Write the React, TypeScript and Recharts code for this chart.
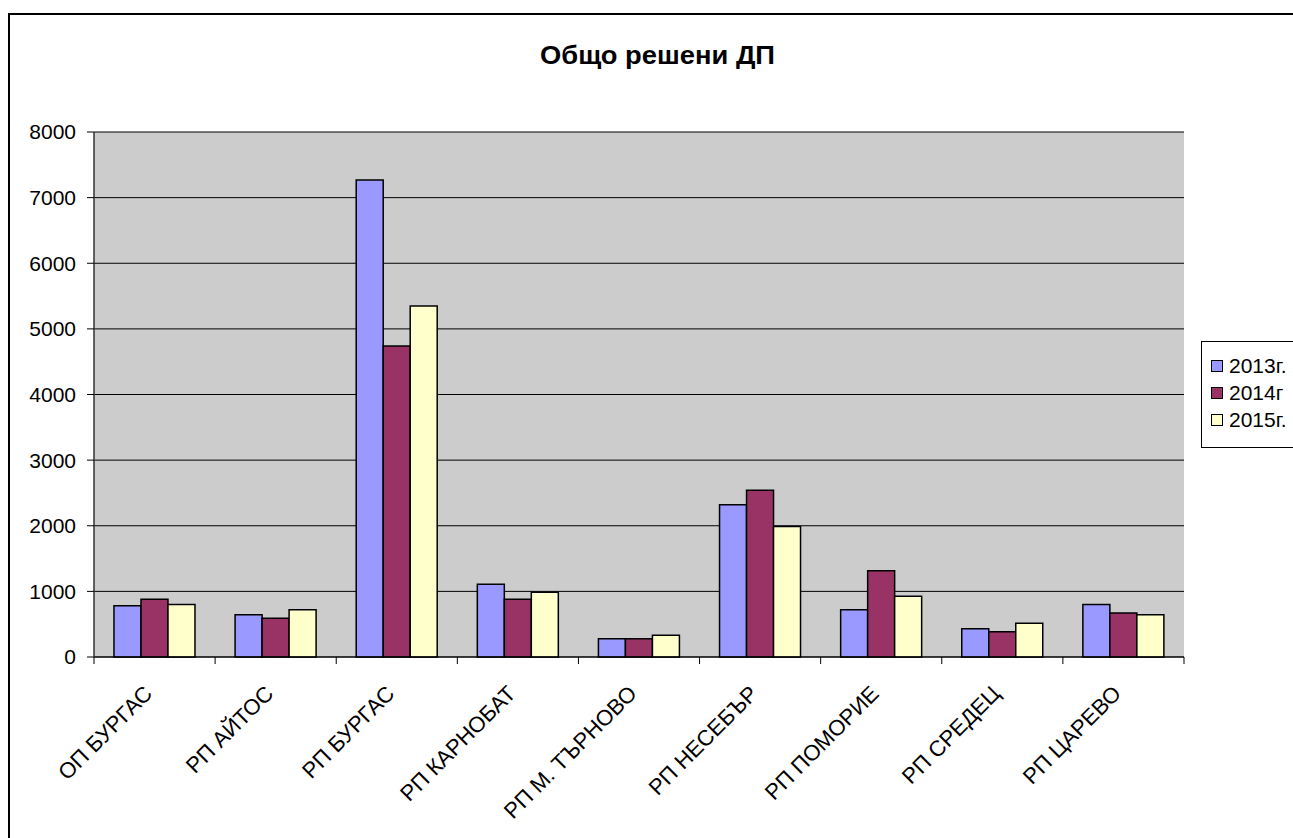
import React from 'react';
import { BarChart, Bar, XAxis, YAxis, CartesianGrid, Legend } from 'recharts';

const categories = [
  'ОП БУРГАС',
  'РП АЙТОС',
  'РП БУРГАС',
  'РП КАРНОБАТ',
  'РП М. ТЪРНОВО',
  'РП НЕСЕБЪР',
  'РП ПОМОРИЕ',
  'РП СРЕДЕЦ',
  'РП ЦАРЕВО',
];
const values2013 = [780, 645, 7270, 1110, 280, 2320, 720, 430, 800];
const values2014 = [880, 590, 4740, 880, 280, 2540, 1315, 385, 670];
const values2015 = [800, 720, 5350, 985, 330, 1990, 925, 515, 645];
const seriesNames = ['2013г.', '2014г', '2015г.'];
const seriesColors = ['#9999FF', '#993366', '#FFFFCC'];
const yTicks = [0, 1000, 2000, 3000, 4000, 5000, 6000, 7000, 8000];
const title = 'Общо решени ДП';

const FONT = '"Liberation Sans", Arial, sans-serif';

const data = categories.map((name, i) => ({
  name,
  s2013: values2013[i],
  s2014: values2014[i],
  s2015: values2015[i],
}));

const XTick = (props: any) => {
  const { x, y, payload, index } = props;
  const half = payload && payload.offset ? payload.offset : 1090 / 18;
  const ax = x - 1;
  const ay = y + 38;
  return (
    <g>
      {index === 0 && (
        <line x1={x - half} y1={y} x2={x - half} y2={y + 7} stroke="#000" strokeWidth={1} />
      )}
      <line x1={x + half} y1={y} x2={x + half} y2={y + 7} stroke="#000" strokeWidth={1} />
      <text
        x={ax}
        y={ay}
        textAnchor="end"
        transform={`rotate(-45, ${ax}, ${ay})`}
        fontSize={22}
        fontFamily={FONT}
        fill="#000"
      >
        {payload.value}
      </text>
    </g>
  );
};

const renderLegend = () => (
  <div
    style={{
      border: '1px solid #000',
      borderRight: 'none',
      background: '#fff',
      width: 140,
      height: 107,
      boxSizing: 'border-box',
      paddingTop: 10,
      paddingLeft: 9,
      fontFamily: FONT,
      fontSize: 21,
      color: '#000',
    }}
  >
    {seriesNames.map((n, i) => (
      <div key={n} style={{ display: 'flex', alignItems: 'center', height: 27 }}>
        <span
          style={{
            display: 'inline-block',
            width: 10,
            height: 10,
            background: seriesColors[i],
            border: '1px solid #000',
            marginRight: 6,
          }}
        />
        <span>{n}</span>
      </div>
    ))}
  </div>
);

export default function App() {
  return (
    <div style={{ position: 'absolute', left: 0, top: 0, width: 1293, height: 838, overflow: 'hidden', background: '#fff' }}>
      <div
        style={{
          position: 'absolute',
          left: 8,
          top: 13,
          width: 1320,
          height: 840,
          border: '2px solid #000',
          background: '#fff',
        }}
      >
        <svg style={{ position: 'absolute', left: 0, top: 0 }} width={1290} height={80}>
          <text
            x={647.5}
            y={48.5}
            textAnchor="middle"
            fontFamily={FONT}
            fontWeight="bold"
            fontSize={25}
            textLength={235}
            lengthAdjust="spacingAndGlyphs"
            fill="#000"
          >
            {title}
          </text>
        </svg>
        <BarChart
          width={1310}
          height={820}
          data={data}
          margin={{ top: 117, right: 136, left: 0, bottom: 58 }}
          barCategoryGap="16.5%"
          barGap={0}
        >
          <CartesianGrid vertical={false} stroke="#000" fill="#CCCCCC" fillOpacity={1} />
          <XAxis
            dataKey="name"
            interval={0}
            height={120}
            tickSize={0}
            tickMargin={0}
            tickLine={false}
            axisLine={{ stroke: '#000', strokeWidth: 1 }}
            tick={<XTick />}
          />
          <XAxis
            xAxisId="top"
            dataKey="name"
            orientation="top"
            height={0}
            tick={false}
            tickLine={false}
            axisLine={{ stroke: '#999', strokeWidth: 2 }}
          />
          <YAxis
            domain={[0, 8000]}
            ticks={yTicks}
            width={84}
            tickSize={7}
            tickMargin={11}
            interval={0}
            axisLine={{ stroke: '#333', strokeWidth: 1.5 }}
            tickLine={{ stroke: '#000' }}
            tick={{ fill: '#000', fontSize: 21, fontFamily: FONT }}
          />
          <YAxis
            yAxisId="right"
            orientation="right"
            width={0}
            domain={[0, 8000]}
            tick={false}
            tickLine={false}
            axisLine={{ stroke: '#999', strokeWidth: 2 }}
          />
          <Legend
            layout="vertical"
            align="center"
            verticalAlign="middle"
            content={renderLegend}
            wrapperStyle={{ left: 1191, top: 326, width: 140, height: 107 }}
          />
          <Bar dataKey="s2013" name={seriesNames[0]} fill={seriesColors[0]} stroke="#000" strokeWidth={1.5} isAnimationActive={false} />
          <Bar dataKey="s2014" name={seriesNames[1]} fill={seriesColors[1]} stroke="#000" strokeWidth={1.5} isAnimationActive={false} />
          <Bar dataKey="s2015" name={seriesNames[2]} fill={seriesColors[2]} stroke="#000" strokeWidth={1.5} isAnimationActive={false} />
        </BarChart>
      </div>
    </div>
  );
}
